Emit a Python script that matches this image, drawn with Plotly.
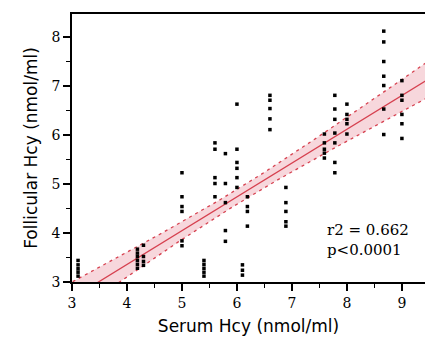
import numpy as np
import plotly.graph_objects as go

# Serum Hcy (x) and Follicular Hcy (y) values, grouped by column
x_cols = [3.11, 4.19, 4.30, 5.00, 5.40, 5.60, 5.79, 6.00, 6.10, 6.19, 6.60, 6.89,
          7.59, 7.78, 8.00, 8.67, 9.00]
y_cols = [
    [3.44, 3.35, 3.27, 3.20, 3.12],
    [3.67, 3.59, 3.52, 3.44, 3.36, 3.28],
    [3.75, 3.52, 3.42, 3.34],
    [5.23, 4.74, 4.54, 4.44, 3.84, 3.74],
    [3.44, 3.36, 3.28, 3.20, 3.12],
    [5.84, 5.71, 5.13, 5.01, 4.74],
    [5.62, 5.01, 4.62, 4.05, 3.83],
    [6.63, 5.71, 5.44, 5.32, 5.13, 4.93],
    [3.35, 3.24, 3.14],
    [4.74, 4.54, 4.44, 4.14],
    [6.81, 6.71, 6.54, 6.33, 6.11],
    [4.93, 4.62, 4.44, 4.23, 4.14],
    [6.02, 5.84, 5.71, 5.63, 5.53],
    [6.81, 6.53, 6.32, 6.04, 5.84, 5.44, 5.23],
    [6.63, 6.42, 6.32, 6.23, 6.02],
    [8.12, 7.90, 7.50, 7.20, 7.01, 6.53, 6.01],
    [7.11, 6.81, 6.71, 6.42, 6.23, 5.93],
]
# regression line and 95% confidence band parameters
reg_slope = 0.690
reg_intercept = 0.598
ci_a = 0.0224      # variance term at mean x
ci_b = 0.00945     # growth with distance from mean x
ci_xmean = 6.03
annot_lines = ["r2 = 0.662", "p<0.0001"]
x_ticks = [3, 4, 5, 6, 7, 8, 9]
y_ticks = [3, 4, 5, 6, 7, 8]

xs = np.array([x for x, ys in zip(x_cols, y_cols) for _ in ys])
ys = np.array([y for ys_ in y_cols for y in ys_])

xr = np.linspace(2.9, 9.6, 120)
yfit = reg_slope * xr + reg_intercept
half = np.sqrt(ci_a + ci_b * (xr - ci_xmean) ** 2)
upper = yfit + half
lower = yfit - half

red = "#d6404f"
fig = go.Figure()
fig.add_trace(go.Scatter(x=xr, y=upper, mode="lines", line=dict(width=0), hoverinfo="skip", showlegend=False))
fig.add_trace(go.Scatter(x=xr, y=lower, mode="lines", line=dict(width=0), fill="tonexty",
                         fillcolor="rgba(225,95,115,0.25)", hoverinfo="skip", showlegend=False))
fig.add_trace(go.Scatter(x=xr, y=upper, mode="lines", line=dict(color=red, width=1.3, dash="3px,4px"), showlegend=False))
fig.add_trace(go.Scatter(x=xr, y=lower, mode="lines", line=dict(color=red, width=1.3, dash="3px,4px"), showlegend=False))
fig.add_trace(go.Scatter(x=xr, y=yfit, mode="lines", line=dict(color=red, width=1.3), showlegend=False))
fig.add_trace(go.Scatter(x=xs, y=ys, mode="markers",
                         marker=dict(symbol="square", size=3.5, color="black", line=dict(width=0)),
                         showlegend=False))

fig.add_annotation(x=7.6, y=4.06, xref="x", yref="y", text=annot_lines[0], showarrow=False,
                   xanchor="left", yanchor="middle", font=dict(family="DejaVu Serif", size=15, color="black"))
fig.add_annotation(x=7.6, y=3.65, xref="x", yref="y", text=annot_lines[1], showarrow=False,
                   xanchor="left", yanchor="middle", font=dict(family="DejaVu Serif", size=15, color="black"))

axis_common = dict(showgrid=False, zeroline=False, showline=True, linecolor="black", linewidth=1.5,
                   ticks="outside", ticklen=7, tickwidth=1.5, tickcolor="black", automargin=False,
                   tickfont=dict(family="DejaVu Serif", size=14, color="black"))
fig.update_xaxes(range=[3, 9.42], tickvals=x_ticks, mirror=True,
                 minor=dict(ticks="outside", ticklen=4, tickwidth=1.2, tickcolor="black", dtick=0.5),
                 title=dict(text="Serum Hcy (nmol/ml)", font=dict(family="DejaVu Sans", size=17, color="black"), standoff=11),
                 **axis_common)
fig.update_yaxes(range=[3, 8.47], tickvals=y_ticks,
                 minor=dict(ticks="outside", ticklen=4, tickwidth=1.2, tickcolor="black", dtick=0.5),
                 title=dict(text="Follicular Hcy (nmol/ml)", font=dict(family="DejaVu Sans", size=17, color="black"), standoff=10),
                 **axis_common)
fig.update_layout(width=425, height=341, margin=dict(l=72, r=0, t=14, b=59),
                  plot_bgcolor="white", paper_bgcolor="white")
fig.write_html("out.html", config={"displayModeBar": False},
               post_script="document.body.style.margin='0';document.body.style.overflow='hidden';")
